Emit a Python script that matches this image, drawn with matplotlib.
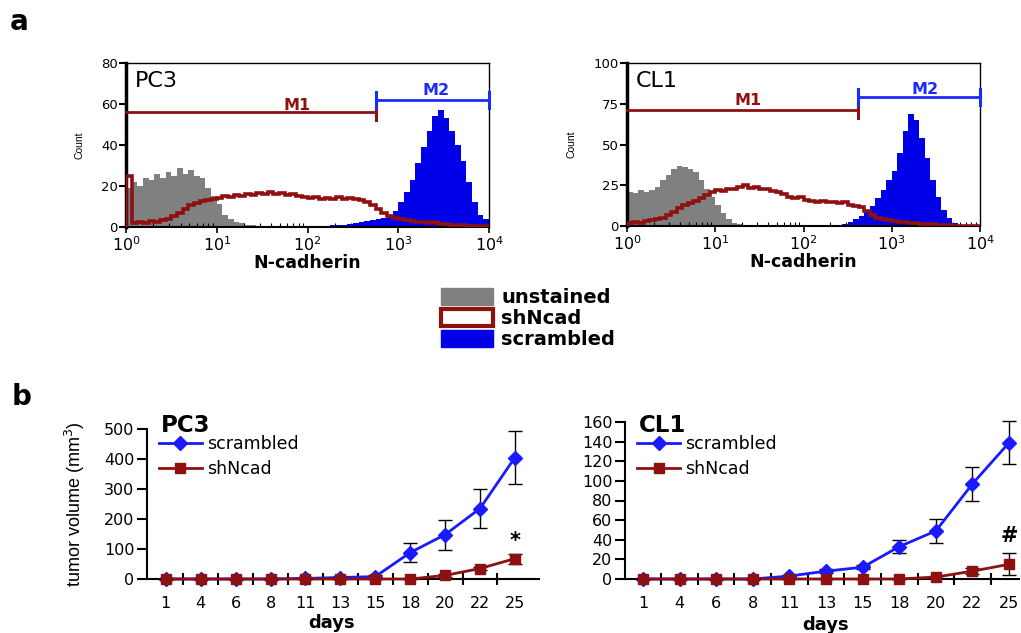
import numpy as np
import matplotlib
matplotlib.use("Agg")
import matplotlib.pyplot as plt
from matplotlib.patches import Patch
from matplotlib.lines import Line2D
from matplotlib.ticker import FixedLocator, NullFormatter, LogLocator

plt.rcParams['font.family'] = ['DejaVu Sans']
plt.rcParams['mathtext.fontset'] = 'dejavusans'

# ---------------- data: flow cytometry histograms (64 log bins, 10^0..10^4) ----------------
pc3_unstained = [19, 22, 20, 24, 23, 26, 24, 27, 25, 29, 26, 28, 25, 24, 19, 15,
                 11, 6, 4, 2.5, 2, 1.2, 1, 0.6, 0.4, 0.2, 0, 0, 0, 0, 0, 0,
                 0, 0, 0, 0, 0, 0, 0, 0, 0, 0, 0, 0, 0, 0, 0, 0,
                 0, 0, 0, 0, 0, 0, 0, 0, 0, 0, 0, 0, 0, 0, 0, 0]
pc3_shncad = [25, 2, 2.5, 2, 3, 2.5, 3.5, 4, 5.5, 7, 9, 10.5, 11.5, 12.5, 13, 13.5,
              14, 15, 14.5, 15.5, 15, 16, 15.5, 16.5, 16, 17, 16, 16.5, 15.5, 16, 15, 14.5,
              14, 14.5, 13.5, 14, 13.5, 14.5, 13.5, 14, 13.5, 13, 12, 10.5, 9, 7, 5.5, 4.5,
              4, 3.5, 3, 2.5, 2.5, 2, 2.5, 1.5, 1.5, 1.2, 1, 0.8, 0.6, 0.5, 0.4, 0.3]
pc3_scrambled = [0, 0, 0, 0, 0, 0, 0, 0, 0, 0, 0, 0, 0, 0, 0, 0,
                 0, 0, 0, 0, 0, 0, 0, 0, 0, 0, 0, 0, 0, 0, 0, 0,
                 0, 0, 0.3, 0.5, 0.8, 1, 1.2, 1.5, 2, 2.5, 3, 3.5, 4, 4.5, 6, 8,
                 12, 17, 23, 31, 39, 47, 54, 57, 53, 47, 40, 32, 22, 12, 6, 4]

cl1_unstained = [21, 20, 22, 21, 22, 24, 28, 31, 35, 37, 36, 35, 33, 28, 23, 18,
                 13, 8, 4, 2, 1, 0.5, 0.2, 0, 0, 0, 0, 0, 0, 0, 0, 0,
                 0, 0, 0, 0, 0, 0, 0, 0, 0, 0, 0, 0, 0, 0, 0, 0,
                 0, 0, 0, 0, 0, 0, 0, 0, 0, 0, 0, 0, 0, 0, 0, 0]
cl1_shncad = [2, 2.5, 2, 3, 3.5, 4, 5, 7, 8.5, 11, 13, 14, 15.5, 17, 19, 21,
              22, 21.5, 23, 22.5, 24, 25, 23.5, 24, 22.5, 23, 21.5, 21, 19.5, 18, 17, 17.5,
              16, 15.5, 15, 15.5, 14.5, 15, 14, 14.5, 13, 12, 11.5, 9, 7, 5, 4, 3.5,
              3, 2.5, 2.5, 2, 2, 1.5, 1.2, 1, 0.8, 0.6, 0.4, 0.3, 0.2, 0.2, 0.2, 0.2]
cl1_scrambled = [0, 0, 0, 0, 0, 0, 0, 0, 0, 0, 0, 0, 0, 0, 0, 0,
                 0, 0, 0, 0, 0.5, 0.3, 0.6, 0.4, 0.5, 0.7, 0.4, 0.6, 0.5, 0.4, 0.5, 0.6,
                 0.5, 0.4, 0.6, 0.5, 0.7, 0.5, 0.8, 1.5, 2.5, 4, 6, 9, 12, 17, 22, 28,
                 34, 45, 58, 69, 65, 54, 42, 28, 18, 10, 5, 2, 0.8, 0.3, 0, 0]

# marker gates: (start, end, level) and label positions (x, y)
pc3_m1 = (1, 10 ** 2.75, 56)
pc3_m2 = (10 ** 2.75, 10 ** 4, 62)
pc3_m1_lab = (10 ** 1.88, 59.5)
pc3_m2_lab = (10 ** 3.42, 66.5)
cl1_m1 = (1, 10 ** 2.62, 71)
cl1_m2 = (10 ** 2.62, 10 ** 4, 79)
cl1_m1_lab = (10 ** 1.37, 77)
cl1_m2_lab = (10 ** 3.38, 84)

# ---------------- data: tumor growth ----------------
days = ['1', '4', '6', '8', '11', '13', '15', '18', '20', '22', '25']
pc3_scr = [0, 0, 0, 0, 2, 5, 8, 88, 148, 235, 405]
pc3_scr_err = [0, 0, 0, 0, 3, 4, 5, 32, 50, 65, 88]
pc3_sh = [0, 0, 0, 0, 0, 0, 0, 0, 12, 35, 68]
pc3_sh_err = [0, 0, 0, 0, 0, 0, 0, 0, 5, 6, 17]
cl1_scr = [0, 0, 0, 0, 3, 8, 12, 33, 49, 97, 139]
cl1_scr_err = [0, 0, 0, 0, 1, 2, 2, 7, 12, 17, 22]
cl1_sh = [0, 0, 0, 0, 0, 0, 0, 0, 2, 8, 15]
cl1_sh_err = [0, 0, 0, 0, 0, 0, 0, 0, 1, 3, 11]

GRAY = '#808080'
BLUE_H = '#0000e8'
RED = '#8e1010'
BLUE_L = '#1a1aff'
BLUE_M = '#1a2cff'

fig = plt.figure(figsize=(10.21, 6.33), dpi=100)
W, H = 1021, 633


def ax_px(l, r, t, b):
    return fig.add_axes([l / W, 1 - b / H, (r - l) / W, (b - t) / H])


edges = 10 ** (np.arange(65) / 16)


def hist_panel(ax, unst, sh, scr, m1, m2, m1_lab, m2_lab, ymax, yticks, name):
    ax.stairs(unst, edges, fill=True, color=GRAY, zorder=1)
    ax.stairs(scr, edges, fill=True, color=BLUE_H, zorder=2)
    ax.stairs(sh, edges, color=RED, lw=2.6, zorder=3)
    ax.set_xscale('log')
    ax.set_xlim(1, 1e4)
    ax.set_ylim(0, ymax)
    ax.set_yticks(yticks)
    ax.xaxis.set_major_locator(FixedLocator([1, 10, 100, 1000, 10000]))
    ax.xaxis.set_minor_locator(LogLocator(base=10, subs=np.arange(2, 10), numticks=20))
    ax.xaxis.set_minor_formatter(NullFormatter())
    ax.set_xticklabels([r'$10^{0}$', r'$10^{1}$', r'$10^{2}$', r'$10^{3}$', r'$10^{4}$'])
    ax.tick_params(axis='x', which='major', direction='out', length=4, width=1.2,
                   labelsize=11.5, pad=2)
    ax.tick_params(axis='x', which='minor', direction='in', length=3, width=0.8)
    ax.tick_params(axis='y', direction='out', length=5, width=1.5, labelsize=9.5, pad=1)
    for s in ['top', 'right']:
        ax.spines[s].set_linewidth(1.0)
    ax.spines['left'].set_linewidth(2.5)
    ax.spines['bottom'].set_linewidth(1.5)
    ax.set_xlabel('N-cadherin', fontsize=12.5, fontweight='bold', labelpad=0)
    ax.set_ylabel('Count', fontsize=7.5, labelpad=12, family='Liberation Sans')
    ax.text(0.025, 0.95, name, transform=ax.transAxes, fontsize=16, va='top', ha='left')
    # gates
    for (x0, x1, lev), (lx, ly), col, lab in [(m1, m1_lab, RED, 'M1'),
                                              (m2, m2_lab, BLUE_M, 'M2')]:
        ax.plot([x0, x1], [lev, lev], color=col, lw=2, zorder=4, clip_on=False)
        dh = ymax * 0.05
        if x0 > 1:
            ax.plot([x0, x0], [lev - dh, lev + dh], color=col, lw=2.2, zorder=4)
        ax.plot([x1, x1], [lev - dh, lev + dh], color=col, lw=2.2, zorder=4, clip_on=False)
        ax.text(lx, ly, lab, color=col, fontsize=11.5, fontweight='bold',
                ha='center', va='center')


ax1 = ax_px(126, 489, 63, 227)
hist_panel(ax1, pc3_unstained, pc3_shncad, pc3_scrambled, pc3_m1, pc3_m2,
           pc3_m1_lab, pc3_m2_lab, 80, [0, 20, 40, 60, 80], 'PC3')
ax2 = ax_px(627, 980, 63, 226)
hist_panel(ax2, cl1_unstained, cl1_shncad, cl1_scrambled, cl1_m1, cl1_m2,
           cl1_m1_lab, cl1_m2_lab, 100, [0, 25, 50, 75, 100], 'CL1')

handles = [Patch(facecolor=GRAY, edgecolor=GRAY),
           Patch(facecolor='white', edgecolor=RED, linewidth=3),
           Patch(facecolor=BLUE_H, edgecolor=BLUE_H)]
fig.legend(handles, ['unstained', 'shNcad', 'scrambled'], loc='upper left',
           bbox_to_anchor=(441 / W, 1 - 288 / H), frameon=False,
           handlelength=2.65, handleheight=0.95, labelspacing=0.1, handletextpad=0.45,
           borderpad=0, borderaxespad=0, prop={'weight': 'bold', 'size': 14})


def growth_panel(ax, scr, scr_err, sh, sh_err, xmin, xmax, ymax, yticks, name,
                 ypos, mark, mark_y, days_x):
    x = np.arange(len(days))
    ax.errorbar(x, scr, yerr=scr_err, color=BLUE_L, marker='D', ms=7.5, lw=2,
                ecolor='black', elinewidth=1, capsize=5, capthick=1, clip_on=False,
                zorder=3)
    ax.errorbar(x, sh, yerr=sh_err, color=RED, marker='s', ms=7.5, lw=2,
                ecolor='black', elinewidth=1, capsize=5, capthick=1, clip_on=False,
                zorder=4)
    ax.set_xlim(xmin, xmax)
    ax.set_ylim(0, ymax)
    ax.set_yticks(yticks)
    ax.set_xticks(x)
    ax.set_xticklabels(days)
    ax.set_xticks(x[:-1] + 0.5, minor=True)
    ax.tick_params(axis='x', which='major', length=0, labelsize=11.5, pad=12)
    ax.tick_params(axis='x', which='minor', direction='inout', length=9, width=1.5)
    ax.tick_params(axis='y', direction='out', length=7, width=1.5, labelsize=11.5, pad=2)
    for s in ['top', 'right']:
        ax.spines[s].set_visible(False)
    ax.spines['left'].set_linewidth(1.5)
    ax.spines['bottom'].set_linewidth(1.5)
    ax.set_xlabel('days', fontsize=13, fontweight='bold')
    ax.xaxis.set_label_coords(days_x, -0.235)
    ax.text(0.035, ypos, name, transform=ax.transAxes, fontsize=16.5, fontweight='bold',
            va='center', ha='left')
    lh = [Line2D([], [], color=BLUE_L, marker='D', ms=7.5, lw=2),
          Line2D([], [], color=RED, marker='s', ms=7.5, lw=2)]
    ax.legend(lh, ['scrambled', 'shNcad'], loc='upper left',
              bbox_to_anchor=(0.03, ypos - 0.06), frameon=False,
              fontsize=12.5, handlelength=2.5, handletextpad=0.3, labelspacing=0.38,
              borderpad=0, borderaxespad=0)
    ax.text(x[-1], mark_y, mark, fontsize=15, fontweight='bold', ha='center', va='center')


ax3 = ax_px(147, 539, 429, 579)
growth_panel(ax3, pc3_scr, pc3_scr_err, pc3_sh, pc3_sh_err, -0.54, 10.69, 500,
             [0, 100, 200, 300, 400, 500], 'PC3', 1.02, '*', 128, 0.472)
ax3.set_ylabel('tumor volume (mm$^3$)', fontsize=13, labelpad=12,
               family='Liberation Sans')

ax4 = ax_px(625, 1019, 422, 579)
growth_panel(ax4, cl1_scr, cl1_scr_err, cl1_sh, cl1_sh_err, -0.49, 10.27, 160,
             list(range(0, 161, 20)), 'CL1', 0.975, '#', 44, 0.51)

fig.text(10 / W, 1 - 30 / H, 'a', fontsize=20, fontweight='bold', ha='left', va='baseline')
fig.text(12 / W, 1 - 405 / H, 'b', fontsize=20, fontweight='bold', ha='left', va='baseline')

fig.savefig('out.png', dpi=100)
